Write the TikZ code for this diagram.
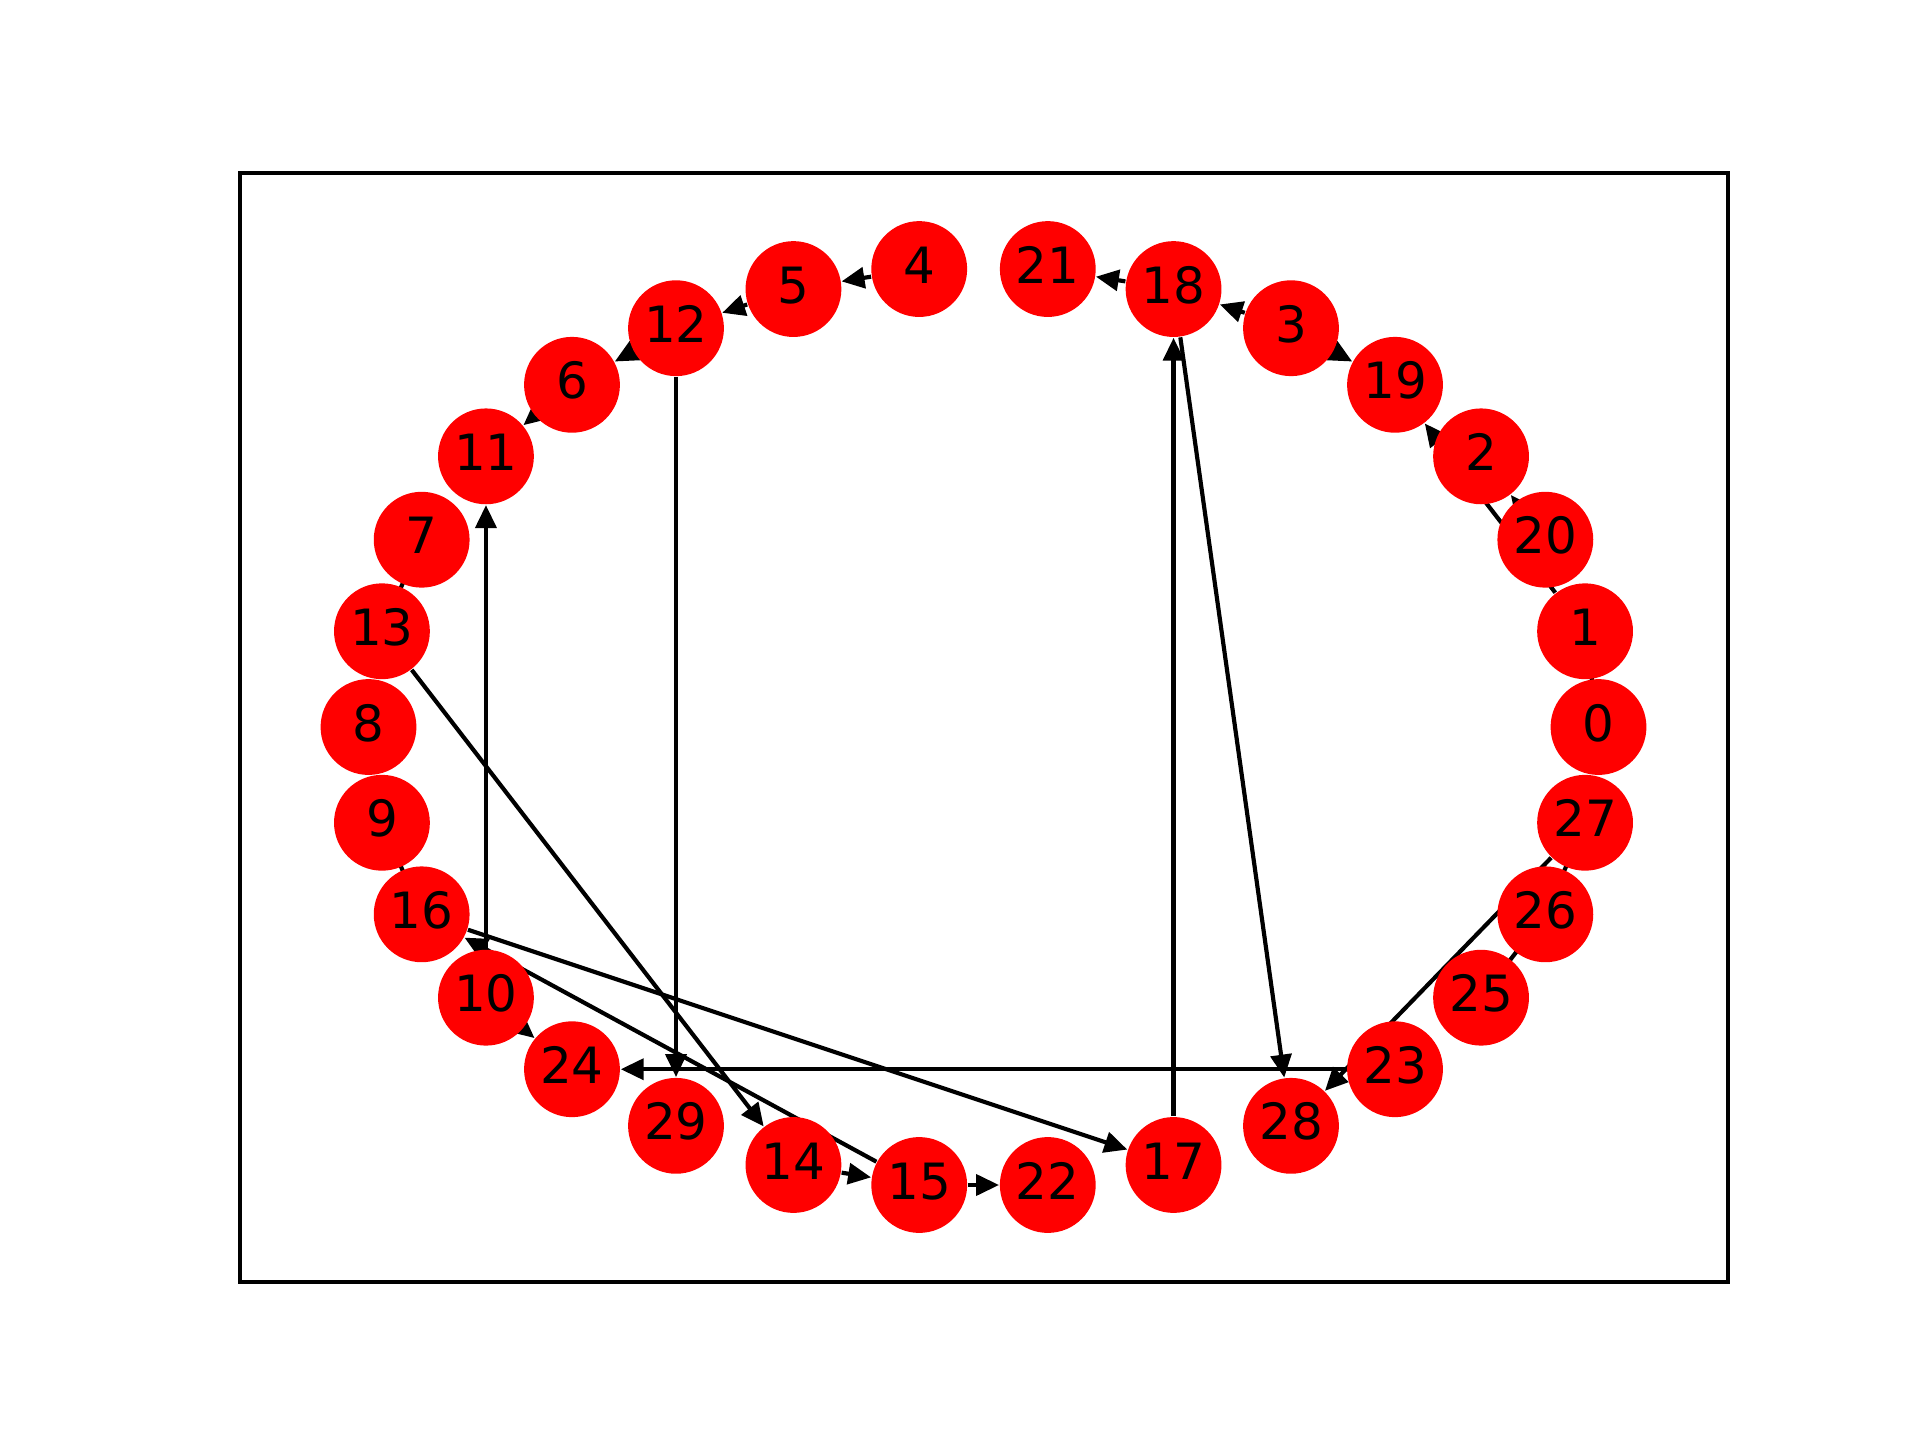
\documentclass[tikz,border=0pt]{standalone}
\usepackage{fontspec}
\setmainfont{DejaVu Sans}
\usetikzlibrary{arrows.meta}
\pgfdeclarelayer{bg}
\pgfsetlayers{bg,main}
\begin{document}
\begin{tikzpicture}[x=0.24pt,y=-0.24pt,
  vtx/.style={circle,fill=red,minimum size=23pt,inner sep=0pt,text height=8.75pt,text depth=2pt,font=\fontsize{12}{14}\selectfont,text=black},
  edge/.style={line width=1pt,-{Triangle[length=5.5pt,width=5pt]}},
  tiny/.style={line width=1pt}]
\useasboundingbox (0,0) rectangle (1920,1440);
\draw[line width=0.8pt] (240,173) rectangle (1728,1282);
\foreach \lab [count=\k from 0] in {0,1,20,2,19,3,18,21,4,5,12,6,11,7,13,8,9,16,10,24,29,14,15,22,17,28,23,25,26,27}
  \node[vtx] (n\lab) at ({983.5+615*cos(12*\k)},{727-460.5*sin(12*\k)}) {\lab};
\begin{pgfonlayer}{bg}
\foreach \a/\b in {4/5,5/12,12/6,6/11,10/11,15/16,10/24,16/17,13/14,12/29,14/15,15/22,17/18,18/21,3/18,18/28,23/24,27/28,1/19,20/2,3/19}
  \draw[edge] (n\a) -- (n\b);
\foreach \a/\b in {7/13,9/16,25/26,26/27,1/0}
  \draw[tiny] (n\a.center) -- (n\b.center);
\end{pgfonlayer}
\end{tikzpicture}
\end{document}
